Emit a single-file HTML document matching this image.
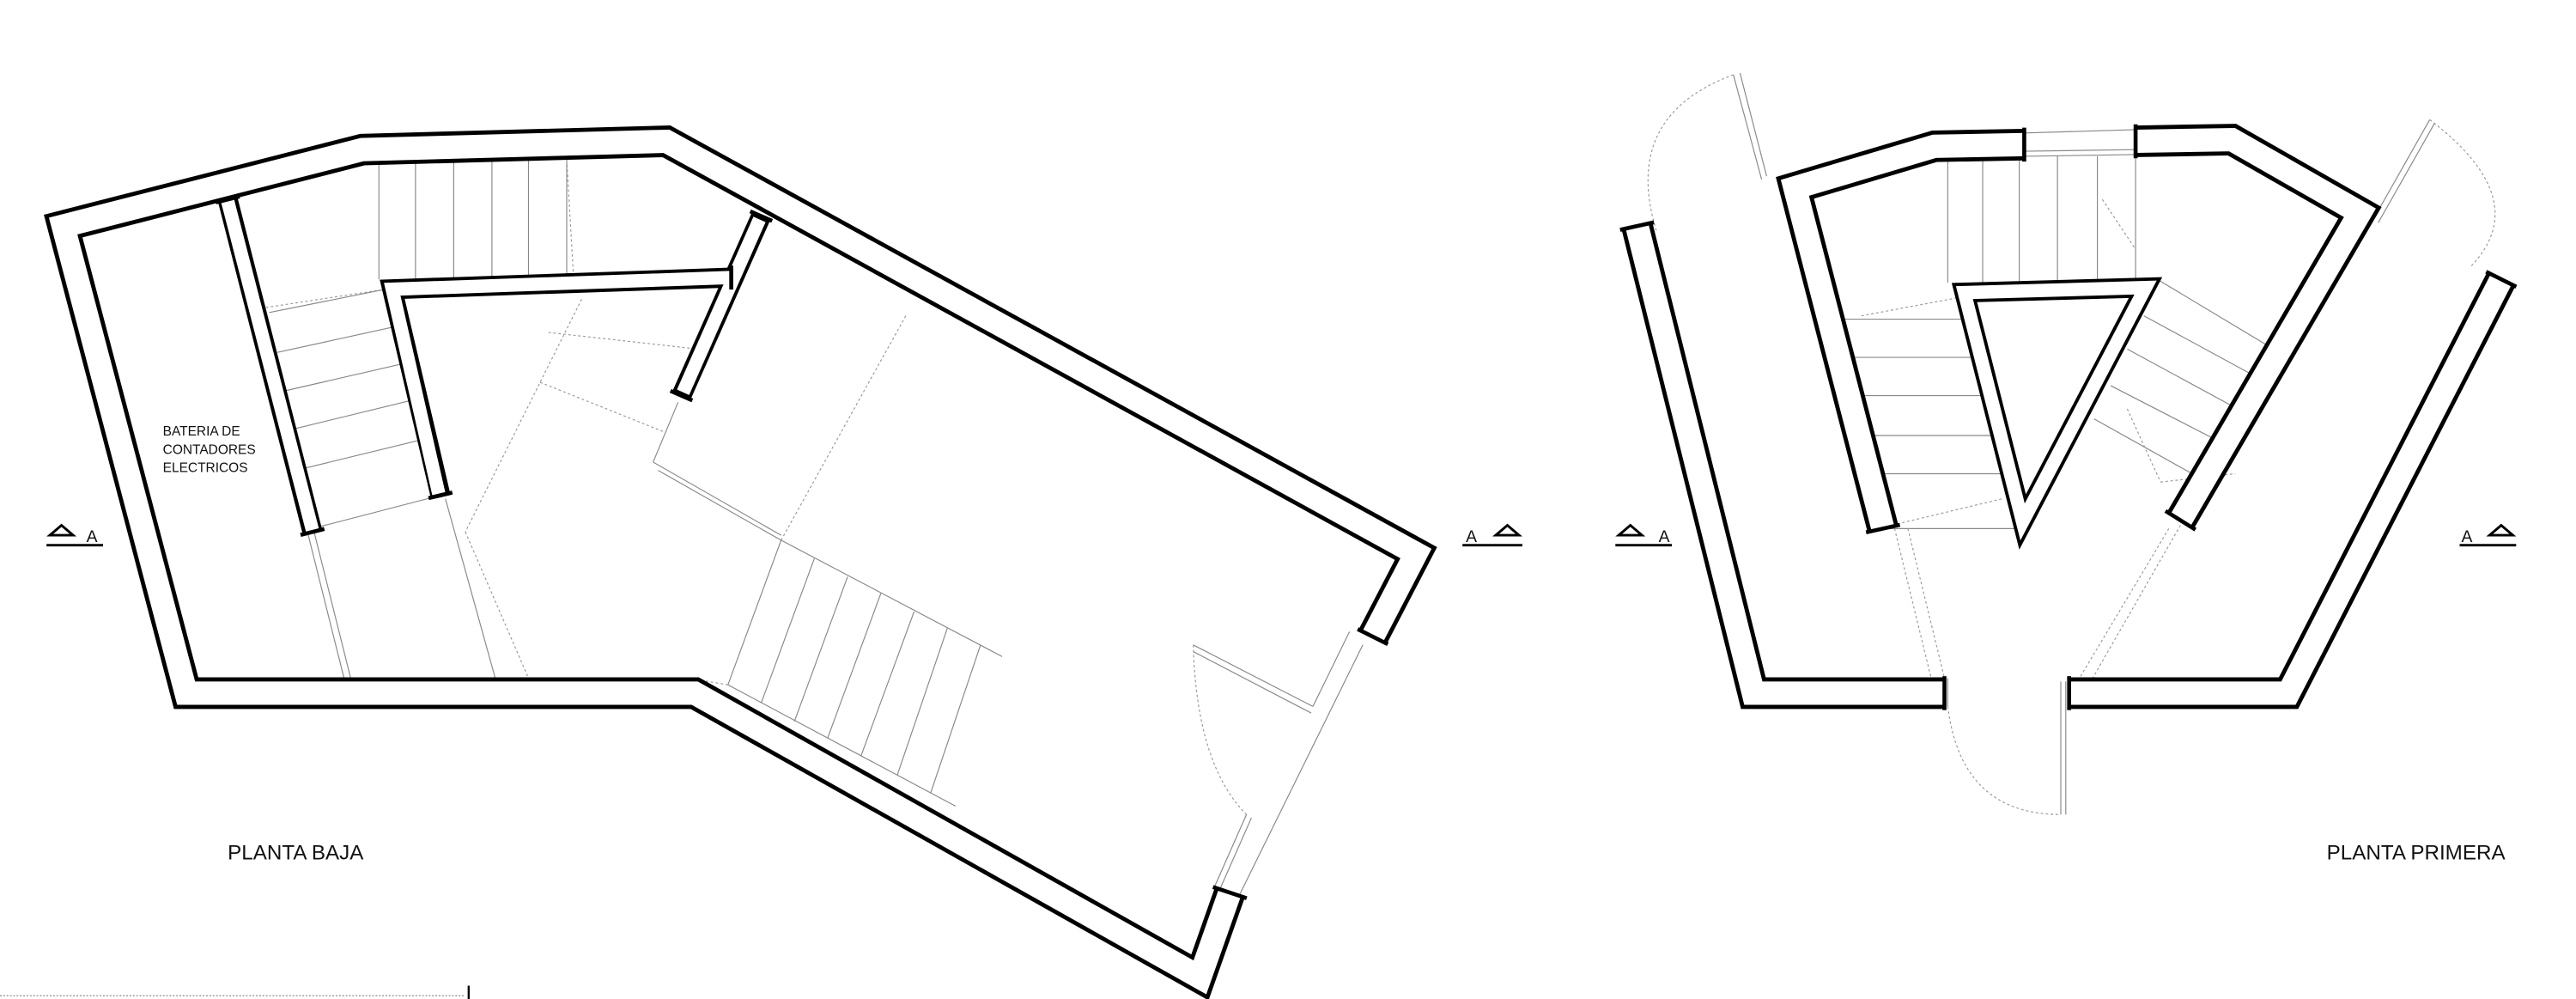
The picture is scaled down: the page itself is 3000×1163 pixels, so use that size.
<!DOCTYPE html>
<html><head><meta charset="utf-8"><style>
html,body{margin:0;padding:0;background:#fff;}
svg{display:block;}
text{font-family:"Liberation Sans",sans-serif;fill:#111;}
</style></head><body>
<svg width="3000" height="1163" viewBox="0 0 1550 601" preserveAspectRatio="none" xmlns="http://www.w3.org/2000/svg">
<rect width="1550" height="601" fill="#fff"/>
<g fill="none" stroke-linejoin="miter">
<g stroke="#888" stroke-width="0.6">
<line x1="228" y1="97" x2="228" y2="168"/><line x1="250" y1="96" x2="250" y2="168"/><line x1="273" y1="96" x2="273" y2="167"/><line x1="296" y1="96" x2="296" y2="167"/><line x1="318" y1="95" x2="318" y2="166"/><line x1="341" y1="95" x2="341" y2="166"/>
<line x1="162" y1="188" x2="232" y2="174"/><line x1="167" y1="212" x2="240" y2="196"/><line x1="172" y1="235" x2="246" y2="218"/><line x1="177" y1="258" x2="251" y2="240"/><line x1="182" y1="282" x2="256" y2="264"/><line x1="188" y1="318" x2="265" y2="298"/>
<line x1="470" y1="325" x2="603" y2="395"/><line x1="438" y1="412" x2="575" y2="485"/>
<line x1="470" y1="325" x2="438" y2="412"/><line x1="490" y1="336" x2="458" y2="423"/><line x1="510" y1="347" x2="478" y2="434"/><line x1="530" y1="357" x2="498" y2="444"/><line x1="550" y1="368" x2="518" y2="455"/><line x1="570" y1="378" x2="540" y2="466"/><line x1="590" y1="388" x2="560" y2="477"/>
<line x1="268" y1="300" x2="298" y2="408"/>
<line x1="393" y1="278" x2="470" y2="322"/><line x1="396" y1="283" x2="470" y2="325"/><line x1="408" y1="242" x2="393" y2="278"/>
<line x1="185" y1="320" x2="207" y2="408"/><line x1="189" y1="320" x2="211" y2="408"/>
<line x1="718" y1="388" x2="790" y2="425"/><line x1="718" y1="392" x2="789" y2="429"/>
<line x1="750" y1="490" x2="731" y2="533"/><line x1="753" y1="492" x2="734" y2="535"/>
<line x1="820" y1="388" x2="745" y2="540"/><line x1="790" y1="425" x2="812" y2="380"/>
</g>
<g stroke="#999" stroke-width="0.6" stroke-dasharray="1.5,1.5">
<line x1="350" y1="180" x2="280" y2="320"/><line x1="280" y1="320" x2="318" y2="408"/>
<line x1="545" y1="190" x2="470" y2="325"/><line x1="438" y1="412" x2="415" y2="408"/>
<line x1="330" y1="200" x2="420" y2="210"/><line x1="325" y1="230" x2="400" y2="260"/>
<line x1="160" y1="185" x2="232" y2="174"/><line x1="341" y1="96" x2="345" y2="165"/>
<path d="M718,388 Q720,460 750,490"/>
</g>
<g stroke="#888" stroke-width="0.6">
<line x1="1172" y1="96" x2="1172" y2="170"/><line x1="1193" y1="95" x2="1193" y2="170"/><line x1="1215" y1="95" x2="1215" y2="169"/><line x1="1238" y1="94" x2="1238" y2="169"/><line x1="1262" y1="94" x2="1262" y2="168"/><line x1="1285" y1="94" x2="1285" y2="168"/>
<line x1="1106" y1="192" x2="1180" y2="192"/><line x1="1112" y1="215" x2="1186" y2="215"/><line x1="1117" y1="238" x2="1192" y2="238"/><line x1="1123" y1="262" x2="1198" y2="262"/><line x1="1129" y1="285" x2="1205" y2="285"/><line x1="1136" y1="318" x2="1212" y2="318"/>
<line x1="1298" y1="168" x2="1368" y2="210"/><line x1="1290" y1="190" x2="1360" y2="228"/><line x1="1280" y1="210" x2="1350" y2="248"/><line x1="1270" y1="232" x2="1340" y2="268"/><line x1="1260" y1="252" x2="1328" y2="290"/>
<line x1="1218" y1="80" x2="1285" y2="78"/><line x1="1218" y1="94" x2="1285" y2="93"/><line x1="1218" y1="91" x2="1285" y2="90"/>
<line x1="1043" y1="45" x2="1060" y2="108"/><line x1="1047" y1="44" x2="1063" y2="106"/>
<line x1="1462" y1="72" x2="1428" y2="132"/><line x1="1465" y1="74" x2="1431" y2="134"/>
<line x1="1240" y1="410" x2="1240" y2="490"/><line x1="1243" y1="410" x2="1243" y2="490"/>
<line x1="1172" y1="408" x2="1172" y2="425"/>
</g>
<g stroke="#999" stroke-width="0.6" stroke-dasharray="1.5,1.5">
<path d="M1043,45 Q975,70 997,140"/>
<path d="M1462,72 Q1525,120 1487,160"/>
<path d="M1172,425 Q1180,490 1240,490"/>
<line x1="1140" y1="318" x2="1162" y2="408"/><line x1="1148" y1="318" x2="1170" y2="408"/>
<line x1="1305" y1="318" x2="1250" y2="410"/><line x1="1312" y1="316" x2="1258" y2="410"/>
<line x1="1120" y1="190" x2="1200" y2="175"/><line x1="1130" y1="318" x2="1205" y2="300"/>
<line x1="1280" y1="246" x2="1300" y2="290"/><line x1="1300" y1="290" x2="1345" y2="285"/>
<line x1="1265" y1="120" x2="1285" y2="150"/>
</g>
<g stroke="#000" stroke-width="19" stroke-linecap="butt">
<polyline points="740,537 722,588 418,417 112,417 38,136 218,90 401,85 852,333 826,383"/>
<polyline points="985,136 1055,417 1170,417"/>
<polyline points="1245,417 1377,417 1505,168"/>
<polyline points="1133,318 1080,113 1164,88 1218,87"/>
<polyline points="1285,85 1343,84 1420,128 1312,313"/>
</g>
<g stroke="#fff" stroke-width="14" stroke-linecap="butt">
<polyline points="740,537 722,588 418,417 112,417 38,136 218,90 401,85 852,333 826,383"/>
<polyline points="985,136 1055,417 1170,417"/>
<polyline points="1245,417 1377,417 1505,168"/>
<polyline points="1133,318 1080,113 1164,88 1218,87"/>
<polyline points="1285,85 1343,84 1420,128 1312,313"/>
</g>
<g stroke="#000" stroke-width="12" stroke-linecap="butt">
<line x1="137" y1="120" x2="188" y2="320"/>
<polyline points="265,298 236,174 440,167"/>
<line x1="458" y1="130" x2="410" y2="238"/>
<polygon points="1182,176 1291,173 1217,314"/>
</g>
<g stroke="#fff" stroke-width="8" stroke-linecap="butt">
<line x1="137" y1="121" x2="188" y2="319"/>
<polyline points="264,297 236,174 439,167"/>
<line x1="457" y1="132" x2="411" y2="236"/>
<polygon points="1182,176 1291,173 1217,314"/>
</g>
<!-- end caps -->
<g stroke="#000" stroke-width="2.4" stroke-linecap="square">
<line x1="749" y1="540" x2="731" y2="534"/>
<line x1="834" y1="387" x2="818" y2="379"/>
<line x1="994" y1="134" x2="976" y2="138"/>
<line x1="1170" y1="408" x2="1170" y2="426"/>
<line x1="1245" y1="408" x2="1245" y2="426"/>
<line x1="1513" y1="172" x2="1497" y2="164"/>
<line x1="1142" y1="316" x2="1124" y2="320"/>
<line x1="1218" y1="78" x2="1218" y2="96"/>
<line x1="1285" y1="76" x2="1285" y2="94"/>
<line x1="1320" y1="318" x2="1304" y2="308"/>
<line x1="143" y1="118.5" x2="131" y2="121.5"/>
<line x1="194" y1="318.5" x2="182" y2="321.5"/>
<line x1="271" y1="296.6" x2="259" y2="299.4"/>
<line x1="440" y1="161" x2="440" y2="173"/>
<line x1="463.5" y1="132.4" x2="452.5" y2="127.6"/>
<line x1="415.5" y1="240.4" x2="404.5" y2="235.6"/>
</g>
<g stroke="#000" stroke-width="1.5">
<line x1="28" y1="328" x2="62" y2="328"/><polygon points="30,322 44,322 37,316" fill="none"/>
<line x1="880" y1="328" x2="916" y2="328"/><polygon points="900,322 914,322 907,316" fill="none"/>
<line x1="972" y1="328" x2="1006" y2="328"/><polygon points="974,322 988,322 981,316" fill="none"/>
<line x1="1480" y1="328" x2="1514" y2="328"/><polygon points="1498,322 1512,322 1505,316" fill="none"/>
</g>
<line x1="0" y1="599" x2="280" y2="599" stroke="#888" stroke-width="0.6" stroke-dasharray="1,1"/>
<line x1="282" y1="593" x2="282" y2="601" stroke="#000" stroke-width="1.2"/>
</g>
<text x="52" y="326" font-size="10">A</text>
<text x="882" y="326" font-size="10">A</text>
<text x="998" y="326" font-size="10">A</text>
<text x="1481" y="326" font-size="10">A</text>
<text x="98" y="262" font-size="8" fill="#444">BATERIA DE</text>
<text x="98" y="273" font-size="8" fill="#444">CONTADORES</text>
<text x="98" y="284" font-size="8" fill="#444">ELECTRICOS</text>
<text x="137" y="517" font-size="12.5">PLANTA BAJA</text>
<text x="1400" y="517" font-size="12.5">PLANTA PRIMERA</text>
</svg>
</body></html>
